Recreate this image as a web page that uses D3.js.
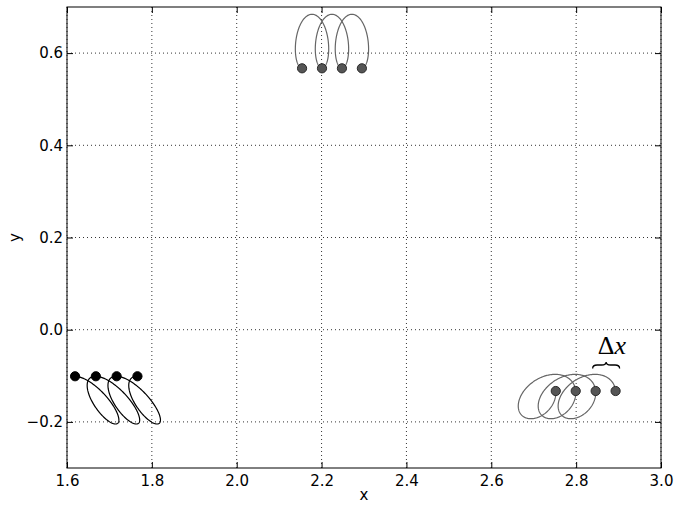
<!DOCTYPE html>
<html><head><meta charset="utf-8">
<script src="https://cdn.jsdelivr.net/npm/d3@7"></script>
<style>body{margin:0;background:#fff}</style>
</head><body><svg id="c" width="677" height="505"></svg>
<script>
// ---- data ----
const xTicks = [1.6, 1.8, 2.0, 2.2, 2.4, 2.6, 2.8, 3.0];
const yTicks = [-0.2, 0.0, 0.2, 0.4, 0.6];
const xDomain = [1.6, 3.0];
const yDomain = [-0.3, 0.7];

const leftDotsX = [1.619, 1.668, 1.717, 1.766];
const leftDotY = -0.101;
const topDotsX = [2.154, 2.201, 2.248, 2.295];
const topDotY = 0.567;
const rightDotsX = [2.752, 2.799, 2.846, 2.893];
const rightDotY = -0.133;

// loop ellipse vectors (data units) and start phase
const leftLoopU = [0.0445, -0.0492], leftLoopV = [-0.0205, -0.0162], leftLoopT0 = 3.48;
const topLoopU = [0.0265, 0.0], topLoopV = [0.0, -0.0586], topLoopT0 = 1.5708;
const rightLoopU = [0.0475, 0.0362], rightLoopV = [0.0288, -0.0317], rightLoopT0 = 0.6;

const annotationText = ["Δ", "x"];

// ---- layout ----
const W = 677, H = 505;
const m = {l: 67, r: 16, t: 7, b: 37};
const svg = d3.select("#c");
const x = d3.scaleLinear().domain(xDomain).range([m.l, W - m.r]);
const y = d3.scaleLinear().domain(yDomain).range([H - m.b, m.t]);

// grid
const g = svg.append("g");
g.selectAll(".gx").data(xTicks).join("line")
  .attr("x1", d => x(d)).attr("x2", d => x(d)).attr("y1", y(yDomain[0])).attr("y2", y(yDomain[1]))
  .attr("stroke", "#000").attr("stroke-width", 0.8).attr("stroke-dasharray", "1,3");
g.selectAll(".gy").data(yTicks).join("line")
  .attr("y1", d => y(d)).attr("y2", d => y(d)).attr("x1", x(xDomain[0])).attr("x2", x(xDomain[1]))
  .attr("stroke", "#000").attr("stroke-width", 0.8).attr("stroke-dasharray", "1,3");

// axes
const fmt = d3.format(".1f");
function styleAxis(sel) {
  sel.select(".domain").remove();
  sel.selectAll("text").style("font-size", "15px").style("font-family", "'DejaVu Sans'").attr("fill", "#000");
  sel.selectAll("line").attr("stroke", "#000");
}
svg.append("g").attr("transform", `translate(0,${y(yDomain[0])})`)
  .call(d3.axisBottom(x).tickValues(xTicks).tickFormat(fmt).tickSizeInner(-6).tickSizeOuter(0).tickPadding(7)).call(styleAxis);
svg.append("g").attr("transform", `translate(0,${y(yDomain[1])})`)
  .call(d3.axisTop(x).tickValues(xTicks).tickFormat("").tickSizeInner(-6).tickSizeOuter(0)).call(styleAxis);
svg.append("g").attr("transform", `translate(${x(xDomain[0])},0)`)
  .call(d3.axisLeft(y).tickValues(yTicks).tickFormat(fmt).tickSizeInner(-6).tickSizeOuter(0).tickPadding(4)).call(styleAxis);
svg.append("g").attr("transform", `translate(${x(xDomain[1])},0)`)
  .call(d3.axisRight(y).tickValues(yTicks).tickFormat("").tickSizeInner(-6).tickSizeOuter(0)).call(styleAxis);

svg.append("rect").attr("x", x(xDomain[0])).attr("y", y(yDomain[1]))
  .attr("width", x(xDomain[1]) - x(xDomain[0])).attr("height", y(yDomain[0]) - y(yDomain[1]))
  .attr("fill", "none").attr("stroke", "#000").attr("stroke-width", 1);

svg.append("text").attr("x", (x(xDomain[0]) + x(xDomain[1])) / 2).attr("y", 500)
  .attr("text-anchor", "middle").style("font-family", "'DejaVu Sans'").style("font-size", "15px").text("x");
svg.append("text").attr("transform", `translate(20,${(y(yDomain[0]) + y(yDomain[1])) / 2}) rotate(-90)`)
  .attr("text-anchor", "middle").style("font-family", "'DejaVu Sans'").style("font-size", "15px").text("y");

// loops
function loopPoints(P, Q, U, V, t0) {
  const E = th => [U[0] * Math.cos(th) + V[0] * Math.sin(th), U[1] * Math.cos(th) + V[1] * Math.sin(th)];
  const e0 = E(t0), pts = [], n = 200;
  for (let i = 0; i <= n; i++) {
    const f = i / n, e = E(t0 + 2 * Math.PI * f);
    pts.push([P[0] + (Q[0] - P[0]) * f + e[0] - e0[0], P[1] + (Q[1] - P[1]) * f + e[1] - e0[1]]);
  }
  return pts;
}
const line = d3.line().x(d => x(d[0])).y(d => y(d[1])).curve(d3.curveLinear);
const groups = [
  {xs: leftDotsX, yv: leftDotY, U: leftLoopU, V: leftLoopV, t0: leftLoopT0, stroke: "#000", fill: "#000"},
  {xs: topDotsX, yv: topDotY, U: topLoopU, V: topLoopV, t0: topLoopT0, stroke: "#666", fill: "#555"},
  {xs: rightDotsX, yv: rightDotY, U: rightLoopU, V: rightLoopV, t0: rightLoopT0, stroke: "#666", fill: "#555"}
];
groups.forEach(gr => {
  const segs = d3.pairs(gr.xs).map(([a, b]) => loopPoints([a, gr.yv], [b, gr.yv], gr.U, gr.V, gr.t0));
  svg.append("g").selectAll("path").data(segs).join("path")
    .attr("d", line).attr("fill", "none").attr("stroke", gr.stroke).attr("stroke-width", 1.2);
});
groups.forEach(gr => {
  svg.append("g").selectAll("circle").data(gr.xs).join("circle")
    .attr("cx", d => x(d)).attr("cy", y(gr.yv)).attr("r", 4.6)
    .attr("fill", gr.fill).attr("stroke", gr.fill === "#000" ? "#000" : "#2a2a2a").attr("stroke-width", 1);
});

// Δx brace annotation
const bx1 = x(rightDotsX[2]) - 3, bx2 = x(rightDotsX[3]) + 4, by = y(rightDotY);
const bm = (bx1 + bx2) / 2, yb = by - 22.5, ym = by - 26, yt = by - 29, r = 4.5;
svg.append("path")
  .attr("d", `M${bx1},${yb} Q${bx1},${ym} ${bx1 + r},${ym} L${bm - r},${ym} Q${bm},${ym} ${bm},${yt} Q${bm},${ym} ${bm + r},${ym} L${bx2 - r},${ym} Q${bx2},${ym} ${bx2},${yb}`)
  .attr("fill", "none").attr("stroke", "#000").attr("stroke-width", 1.3);
const t = svg.append("text").attr("x", x(rightDotsX[2]) + 2).attr("y", by - 37)
  .style("font-family", "'Liberation Serif'").style("font-size", "26px");
t.append("tspan").text(annotationText[0]);
t.append("tspan").style("font-style", "italic").text(annotationText[1]);
</script></body></html>
